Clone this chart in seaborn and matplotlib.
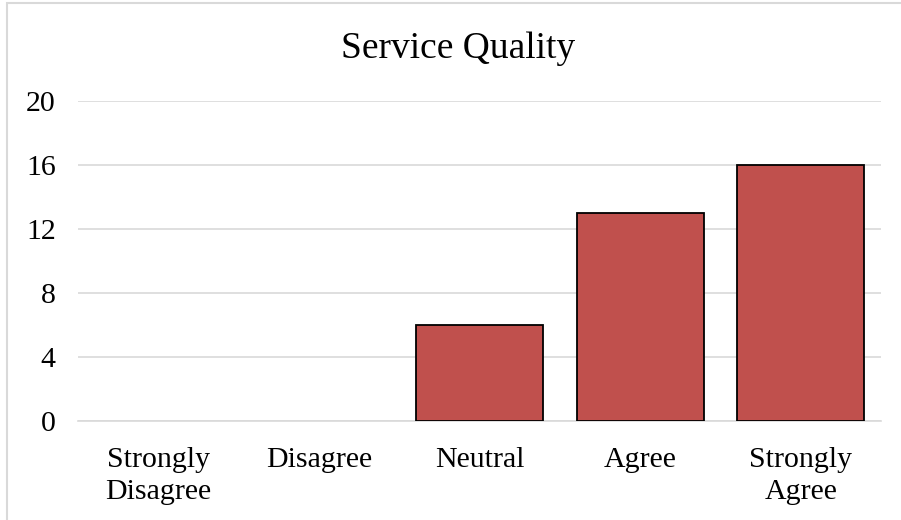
import matplotlib
matplotlib.use("Agg")
import matplotlib.pyplot as plt
import seaborn as sns
import pandas as pd
from matplotlib.patches import Rectangle

# survey responses
categories = ["Strongly\nDisagree", "Disagree", "Neutral", "Agree", "Strongly\nAgree"]
counts = [0, 0, 6, 13, 16]
y_ticks = [0, 4, 8, 12, 16, 20]

df = pd.DataFrame({"response": categories, "count": counts})

sns.set_style("white")
plt.rcParams["font.family"] = ["Liberation Serif", "DejaVu Serif"]

fig = plt.figure(figsize=(9.01, 5.2), dpi=100)
ax = fig.add_axes([0.0866, 0.1904, 0.8914, 0.6154])

sns.barplot(data=df, x="response", y="count", color="#c0504d", saturation=1,
            width=0.79, edgecolor="black", linewidth=1.3, ax=ax, zorder=3)
# no outline for empty categories
for p in ax.patches:
    if p.get_height() == 0:
        p.set_linewidth(0)

ax.set_ylim(0, 20)
ax.set_yticks(y_ticks)
ax.yaxis.grid(True, color="#d9d9d9", linewidth=1.2, zorder=0)
ax.set_axisbelow(True)
for s in ["top", "right", "left"]:
    ax.spines[s].set_visible(False)
ax.spines["bottom"].set_color("#d9d9d9")
ax.spines["bottom"].set_linewidth(1.2)
ax.tick_params(axis="both", length=0, labelsize=21.5, colors="black")
ax.tick_params(axis="y", pad=16)
ax.tick_params(axis="x", pad=19)
ax.set_xlabel("")
ax.set_ylabel("")
for lbl in ax.get_xticklabels():
    lbl.set_linespacing(1.3)

fig.text(0.508, 0.888, "Service Quality", ha="center", va="baseline", fontsize=27, color="black")

# chart frame (only left/top visible in the crop)
fig.patches.append(Rectangle((7 / 901, -0.1), 1.2, 1.1 - 3.5 / 520, transform=fig.transFigure,
                             fill=False, edgecolor="#d9d9d9", linewidth=1.5))

fig.savefig("out.png", dpi=100)
